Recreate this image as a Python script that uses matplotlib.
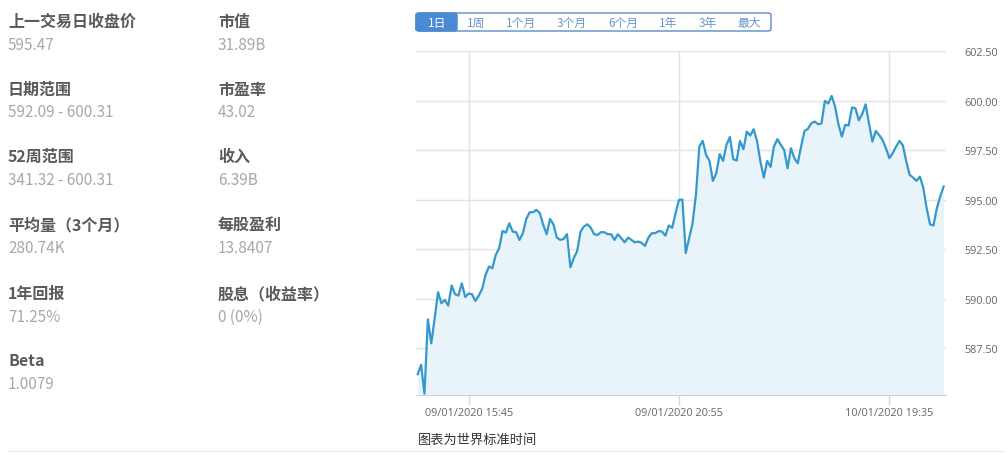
import numpy as np
import pandas as pd
import matplotlib
matplotlib.use('Agg')
import matplotlib.pyplot as plt
from matplotlib.patches import FancyBboxPatch, Rectangle
from matplotlib.lines import Line2D

plt.rcParams['font.family'] = ['Noto Sans CJK SC', 'DejaVu Sans']

# left info panel
stat_labels = ['上一交易日收盘价', '日期范围', '52周范围', '平均量（3个月）', '1年回报', 'Beta',
               '市值', '市盈率', '收入', '每股盈利', '股息（收益率）']
stat_values = ['595.47', '592.09 - 600.31', '341.32 - 600.31', '280.74K', '71.25%', '1.0079',
               '31.89B', '43.02', '6.39B', '13.8407', '0 (0%)']

# range buttons
range_buttons = ['1日', '1周', '1个月', '3个月', '6个月', '1年', '3年', '最大']

# 5-minute bars, two sessions
day1 = pd.date_range('2020-01-09 14:30', '2020-01-09 20:55', freq='5min')
day2 = pd.date_range('2020-01-10 14:30', '2020-01-10 20:55', freq='5min')
times = list(day1) + list(day2)
prices = [586.18, 586.65, 585.20, 588.95, 587.74, 589.00, 590.32, 589.76, 589.93, 589.64,
          590.66, 590.22, 590.15, 590.77, 590.08, 590.25, 590.22, 589.88, 590.15, 590.49,
          591.19, 591.62, 591.53, 592.20, 592.54, 593.41, 593.33, 593.80, 593.38, 593.35,
          592.96, 593.30, 594.02, 594.36, 594.36, 594.48, 594.31, 593.72, 593.25, 594.02,
          593.75, 593.08, 592.96, 593.01, 593.25, 591.58, 592.04, 592.40, 593.38, 593.64,
          593.75, 593.58, 593.25, 593.21, 593.35, 593.35, 593.25, 593.25, 592.96, 593.25,
          593.05, 592.84, 593.08, 592.96, 592.84, 592.88, 592.81, 592.66, 593.08, 593.30,
          593.30, 593.41, 593.38, 593.18, 593.69, 593.58, 594.31, 594.98, 595.00, 592.30,
          593.05, 593.80, 595.23, 597.68, 597.96, 597.25, 596.95, 595.94, 596.33, 597.29,
          596.95, 597.76, 598.16, 597.04, 596.97, 597.96, 597.54, 598.43, 598.23, 598.55,
          597.96, 596.92, 596.11, 596.95, 596.65, 597.68, 598.05, 597.76, 597.51, 596.58,
          597.59, 597.09, 596.83, 597.68, 598.46, 598.57, 598.85, 598.94, 598.80, 598.84,
          599.98, 599.85, 600.23, 599.70, 598.80, 598.18, 598.77, 598.74, 599.65, 599.61,
          599.00, 599.31, 599.81, 598.85, 597.93, 598.46, 598.26, 598.01, 597.59, 597.09,
          597.34, 597.68, 597.96, 597.73, 596.92, 596.24, 596.11, 595.94, 596.16, 595.61,
          594.56, 593.75, 593.69, 594.56, 595.15, 595.66]
tick_times = ['2020-01-09 15:45', '2020-01-09 20:55', '2020-01-10 19:35']
yticks = [587.5, 590.0, 592.5, 595.0, 597.5, 600.0, 602.5]

W, H = 1008, 456
fig = plt.figure(figsize=(W / 100, H / 100), dpi=100)

def fx(x):
    return x / W

def fy(y):
    return 1 - y / H

# ---- left panel
col_x = [8, 218]
label_y = [22, 90, 157, 225, 294, 361]
value_y = [45, 113, 181, 249, 317, 385]
for k, (lab, val) in enumerate(zip(stat_labels, stat_values)):
    col = 0 if k < 6 else 1
    row = k if k < 6 else k - 6
    fig.text(fx(col_x[col]), fy(label_y[row]), lab, fontsize=11.5, fontweight='bold',
             color='#5a5a5a', ha='left', va='center')
    fig.text(fx(col_x[col]), fy(value_y[row]), val, fontsize=11, color='#a8a8a8',
             ha='left', va='center')

fig.add_artist(Line2D([fx(8), fx(1004)], [fy(452), fy(452)], color='#ececec', lw=1))

# ---- range buttons
bx0, bx1, by0, by1 = 416, 771, 14, 32
fig.add_artist(FancyBboxPatch((fx(bx0), fy(by1)), fx(bx1 - bx0), (by1 - by0) / H,
                              boxstyle='round,pad=0,rounding_size=0.004',
                              fc='white', ec='#5b8bc6', lw=1, transform=fig.transFigure))
fig.add_artist(FancyBboxPatch((fx(bx0), fy(by1)), fx(41), (by1 - by0) / H,
                              boxstyle='round,pad=0,rounding_size=0.004',
                              fc='#4a8ad4', ec='#4a8ad4', lw=1, transform=fig.transFigure))
fig.add_artist(Rectangle((fx(440), fy(by1)), fx(17), (by1 - by0) / H,
                         fc='#4a8ad4', ec='none', transform=fig.transFigure))
btn_cx = [437, 476, 521, 572, 623, 668, 708, 749]
for k, (lab, cx) in enumerate(zip(range_buttons, btn_cx)):
    fig.text(fx(cx), fy(23), lab, fontsize=8.5, color='white' if k == 0 else '#6a95cc',
             ha='center', va='center')

# ---- price chart
ax = fig.add_axes([fx(416), fy(396), fx(530), 344 / H])
x = np.arange(len(prices))
ax.fill_between(x, prices, 585.13, color='#e8f3fa', lw=0)
ax.plot(x, prices, color='#3399cc', lw=1.6)
ax.set_xlim(-0.5, len(prices) - 0.3)
ax.set_ylim(585.13, 602.5)

for s in ['top', 'left', 'right']:
    ax.spines[s].set_visible(False)
ax.spines['bottom'].set_color('#c9d5de')

ax.yaxis.tick_right()
ax.set_yticks(yticks)
ax.set_yticklabels(['%.2f' % v for v in yticks])
ax.tick_params(axis='y', length=0, pad=13, labelsize=7.8, labelcolor='#666666')
ax.grid(axis='y', color='#e3e3e3', lw=1)

pos = [times.index(pd.Timestamp(t)) for t in tick_times]
ax.set_xticks(pos)
ax.set_xticklabels([pd.Timestamp(t).strftime('%d/%m/%Y %H:%M') for t in tick_times])
ax.tick_params(axis='x', length=7, width=1, color='#d3dbe2', pad=2, labelsize=7.8,
               labelcolor='#666666')
ax.grid(axis='x', color='#dde3e8', lw=1)
ax.set_axisbelow(True)
for lab in ax.get_yticklabels() + ax.get_xticklabels():
    lab.set_fontfamily(['Open Sans', 'DejaVu Sans'])

fig.text(fx(418), fy(440), '图表为世界标准时间', fontsize=9.5, color='#333333',
         ha='left', va='center')

fig.savefig('out.png', dpi=100)
